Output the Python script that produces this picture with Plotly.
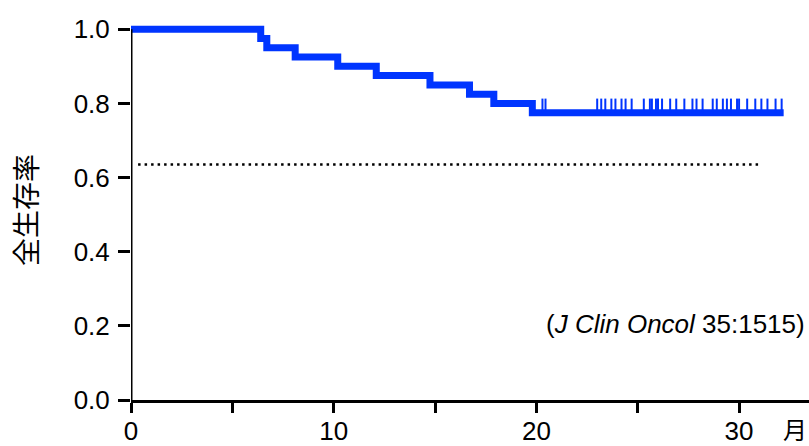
import numpy as np
import plotly.graph_objects as go

# ---- data ----
event_months = [0, 6.4, 6.7, 8.1, 10.2, 12.1, 14.75, 16.7, 17.9, 19.8, 32.2]
surv_levels = [1.0, 0.975, 0.95, 0.925, 0.90, 0.875, 0.85, 0.825, 0.80, 0.775, 0.775]
censor_months = [20.3, 20.45,
                 23.0, 23.2, 23.4, 23.7, 23.9, 24.2, 24.4, 24.7, 25.3, 25.6, 25.7,
                 25.9, 26.0, 26.2, 26.6, 26.9, 27.3, 27.7, 27.9, 28.2, 28.7, 28.9,
                 29.2, 29.4, 29.6, 29.9, 30.0, 30.4, 30.8, 31.1, 31.4, 31.8, 32.1]
reference_rate = 0.635
reference_span = [0.35, 31.0]
x_tickvals = [0, 5, 10, 15, 20, 25, 30]
x_ticktext = ["0", "", "10", "", "20", "", "30"]
y_tickvals = [0.0, 0.2, 0.4, 0.6, 0.8, 1.0]
y_title = "全生存率"
x_unit = "月"
citation = "(<i>J Clin Oncol</i> 35:1515)"

BLUE = "#0035FF"
NUM_FONT = "Liberation Sans, Arial, sans-serif"
CJK_FONT = "Noto Sans CJK JP, sans-serif"

# survival level at each censor time (step function)
idx = np.searchsorted(np.array(event_months), np.array(censor_months), side="right") - 1
censor_levels = [surv_levels[i] for i in idx]

fig = go.Figure()

# historical reference (dotted)
fig.add_trace(go.Scatter(
    x=reference_span, y=[reference_rate, reference_rate], mode="lines",
    line=dict(color="black", width=2.5, dash="2.5px,4px"), hoverinfo="skip"))

# KM curve
fig.add_trace(go.Scatter(
    x=event_months, y=surv_levels, mode="lines", line_shape="hv",
    line=dict(color=BLUE, width=7), hoverinfo="skip"))

# censor marks
fig.add_trace(go.Scatter(
    x=censor_months, y=censor_levels, mode="markers",
    marker=dict(size=1, color=BLUE),
    error_y=dict(type="data", symmetric=False, array=[0.038] * len(censor_months),
                 arrayminus=[0] * len(censor_months), width=0, thickness=2, color=BLUE),
    hoverinfo="skip"))

fig.update_layout(
    width=809, height=446,
    margin=dict(l=131, r=0, t=20, b=46, autoexpand=False),
    paper_bgcolor="white", plot_bgcolor="white",
    showlegend=False,
    font=dict(family=NUM_FONT, size=26, color="black"),
)

fig.update_xaxes(
    range=[0, 33.45], tickvals=x_tickvals, ticktext=x_ticktext,
    showline=True, linecolor="black", linewidth=3,
    ticks="outside", ticklen=10, tickwidth=3, tickcolor="black",
    showgrid=False, zeroline=False, automargin=False,
    ticklabelstandoff=-4,
    tickfont=dict(family=NUM_FONT, size=26),
)
fig.update_yaxes(
    range=[0, 1.025], tickvals=y_tickvals, tickformat=".1f",
    showline=False,
    ticks="outside", ticklen=12, tickwidth=3, tickcolor="black",
    showgrid=False, zeroline=False, automargin=False,
    ticklabelstandoff=3,
    tickfont=dict(family=NUM_FONT, size=26),
    title=dict(text=y_title, font=dict(family=CJK_FONT, size=28), standoff=27),
)

# y axis line from 0 to 1.0
fig.add_shape(type="line", xref="x", yref="y", x0=0, x1=0, y0=0, y1=1.0,
              line=dict(color="black", width=3), layer="above")

fig.add_annotation(text=x_unit, xref="paper", yref="paper", x=1, y=0,
                   xanchor="right", yanchor="top", yshift=-9, showarrow=False,
                   font=dict(family=CJK_FONT, size=24, color="black"))
fig.add_annotation(text=citation, xref="paper", yref="y", x=1, y=0.205,
                   xanchor="right", yanchor="middle", xshift=-2, showarrow=False,
                   font=dict(family=NUM_FONT, size=26, color="black"))

fig.write_html("out.html", config={"displayModeBar": False},
               post_script="document.body.style.margin='0';document.body.style.overflow='hidden';")
